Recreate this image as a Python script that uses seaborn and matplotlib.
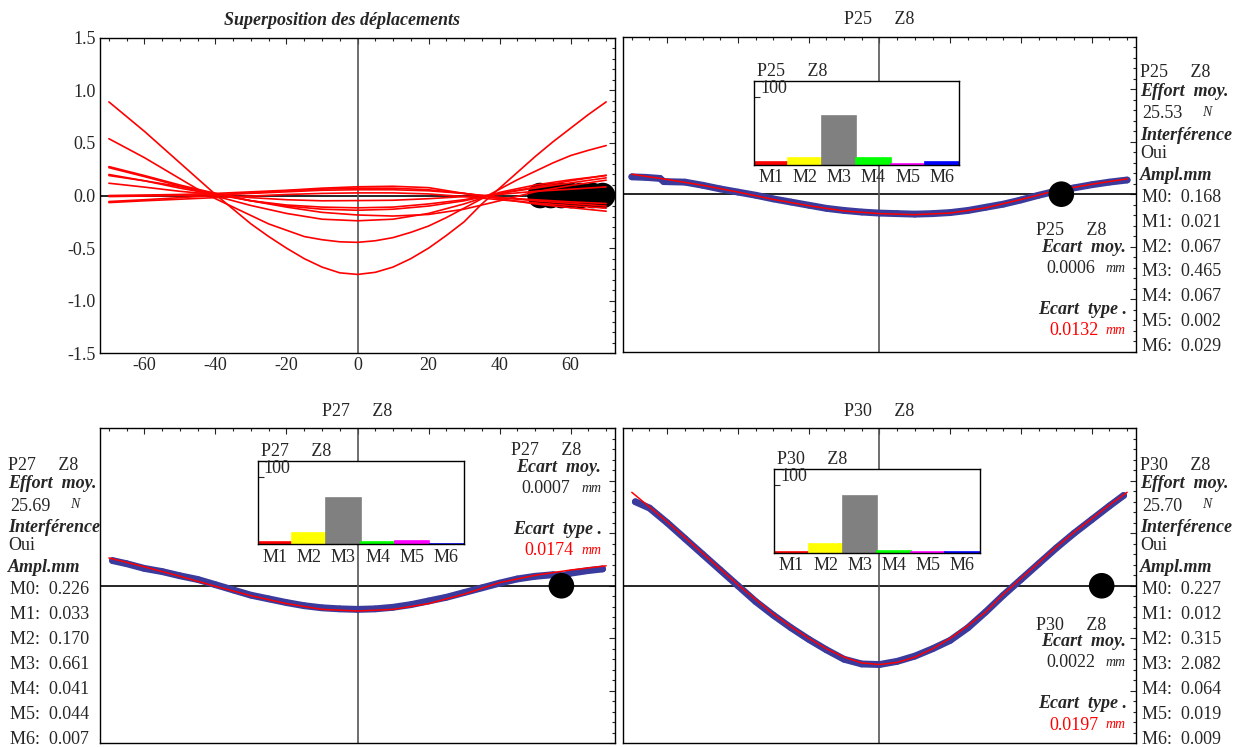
import numpy as np
import pandas as pd
import matplotlib
matplotlib.use("Agg")
import matplotlib.pyplot as plt
from matplotlib.ticker import MultipleLocator
import seaborn as sns

W, H = 1238, 747

# x grids of the fitted curves
x_fine = [-70, -65, -60, -55, -50, -45, -40, -35, -30, -25, -20, -15, -10, -5, 0,
          5, 10, 15, 20, 25, 30, 35, 40, 45, 50, 55, 60, 65, 70]
x_coarse = [-70, -60, -50, -40, -30, -20, -10, 0, 10, 20, 30, 40, 50, 60, 70]

# fitted curves (superposition)
fit_p30 = [0.89, 0.75, 0.61, 0.46, 0.31, 0.16, 0.01, -0.13, -0.27, -0.39, -0.50, -0.60, -0.68, -0.735, -0.75,
           -0.73, -0.68, -0.60, -0.50, -0.38, -0.25, -0.08, 0.07, 0.22, 0.37, 0.51, 0.64, 0.77, 0.89]
fit_b = [0.54, 0.45, 0.36, 0.26, 0.16, 0.06, -0.03, -0.11, -0.19, -0.27, -0.33, -0.39, -0.42, -0.44, -0.445,
         -0.43, -0.40, -0.35, -0.29, -0.21, -0.12, -0.03, 0.06, 0.15, 0.23, 0.31, 0.38, 0.43, 0.475]
fit_p27 = [0.265, 0.18, 0.09, -0.005, -0.095, -0.17, -0.225, -0.24, -0.225, -0.17, -0.08, 0.03, 0.10, 0.15, 0.19]
fit_p25 = [0.19, 0.14, 0.085, 0.02, -0.05, -0.11, -0.16, -0.185, -0.195, -0.18, -0.13, -0.05, 0.035, 0.095, 0.146]
fit_e = [0.275, 0.19, 0.10, 0.02, -0.05, -0.10, -0.13, -0.14, -0.13, -0.10, -0.05, 0.02, 0.08, 0.14, 0.193]
fit_f = [0.20, 0.14, 0.07, 0.01, -0.05, -0.09, -0.11, -0.117, -0.11, -0.08, -0.04, 0.02, 0.07, 0.12, 0.168]
fit_g = [0.117, 0.08, 0.04, 0.01, -0.02, -0.04, -0.05, -0.048, -0.045, -0.03, -0.01, 0.01, 0.04, 0.06, 0.082]
fit_h = [0.0, 0.005, 0.01, 0.02, 0.035, 0.05, 0.07, 0.083, 0.088, 0.075, 0.02, -0.02, -0.04, -0.06, -0.076]
fit_i = [-0.01, -0.005, 0.0, 0.01, 0.02, 0.035, 0.05, 0.055, 0.055, 0.045, 0.02, -0.02, -0.05, -0.075, -0.10]
fit_j = [-0.057, -0.04, -0.02, 0.0, 0.025, 0.045, 0.06, 0.07, 0.07, 0.055, 0.02, -0.03, -0.08, -0.115, -0.149]
fit_k = [-0.067, -0.05, -0.035, -0.02, -0.005, 0.01, 0.02, 0.025, 0.025, 0.015, -0.01, -0.04, -0.07, -0.095, -0.12]

# measured points
p25_x = [-70, -66, -62, -61, -55, -50, -45, -40, -35, -30, -25, -20, -15, -10, -5, 0,
         5, 10, 15, 20, 25, 30, 35, 40, 45, 50, 55, 60, 65, 70]
p25_y = [0.165, 0.16, 0.15, 0.12, 0.115, 0.085, 0.05, 0.02, -0.01, -0.045, -0.075, -0.105, -0.135, -0.155, -0.17, -0.18,
         -0.185, -0.19, -0.185, -0.175, -0.155, -0.125, -0.095, -0.055, -0.01, 0.03, 0.06, 0.09, 0.115, 0.135]
p27_x = [-69, -65, -60, -55, -50, -45, -40, -35, -30, -25, -20, -15, -10, -5, 0,
         5, 10, 15, 20, 25, 30, 35, 40, 45, 50, 55, 58, 60, 65, 69]
p27_y = [0.24, 0.21, 0.165, 0.135, 0.095, 0.06, 0.01, -0.04, -0.09, -0.125, -0.16, -0.19, -0.21, -0.22, -0.225,
         -0.22, -0.205, -0.18, -0.145, -0.11, -0.065, -0.02, 0.025, 0.065, 0.09, 0.105, 0.095, 0.12, 0.145, 0.16]
p30_x = [-69, -65, -60, -55, -50, -45, -40, -35, -30, -25, -20, -15, -10, -5, 0,
         5, 10, 15, 20, 25, 30, 35, 40, 45, 50, 55, 60, 65, 69]
p30_y = [0.80, 0.74, 0.60, 0.45, 0.30, 0.15, 0.0, -0.15, -0.28, -0.40, -0.51, -0.61, -0.70, -0.745, -0.75,
         -0.72, -0.67, -0.60, -0.52, -0.40, -0.25, -0.09, 0.06, 0.21, 0.36, 0.50, 0.63, 0.76, 0.86]

# sensor positions (black discs)
pos_all = [51.4, 54.4, 57.4, 60.1, 62.8, 66.2, 69.0]
pos_p25, pos_p27, pos_p30 = 51.4, 57.4, 62.8

modes = ["M1", "M2", "M3", "M4", "M5", "M6"]
mode_colors = ["#ff0000", "#ffff00", "#808080", "#00ff00", "#ff00ff", "#0000ff"]
ampl_p25 = [0.168, 0.021, 0.067, 0.465, 0.067, 0.002, 0.029]   # M0..M6
ampl_p27 = [0.226, 0.033, 0.170, 0.661, 0.041, 0.044, 0.007]
ampl_p30 = [0.227, 0.012, 0.315, 2.082, 0.064, 0.019, 0.009]
efforts = ["25.53", "25.69", "25.70"]
ecart_moy = ["0.0006", "0.0007", "0.0022"]
ecart_type = ["0.0132", "0.0174", "0.0197"]

sns.set_style("white")
plt.rcParams['font.family'] = ['Liberation Serif', 'DejaVu Serif']
plt.rcParams['axes.edgecolor'] = 'black'
plt.rcParams['axes.linewidth'] = 1.0
plt.rcParams['axes.unicode_minus'] = False

fig = plt.figure(figsize=(W / 100, H / 100), dpi=100)
RED = "#ff0000"
BLUE = "#3b3b9e"
FS = 13


def px(x, y):
    return x / W, 1 - y / H


def setup(ax, labels=False):
    ax.set_xlim(-72.5, 72.5)
    ax.set_ylim(-1.5, 1.5)
    ax.xaxis.set_major_locator(MultipleLocator(20))
    ax.xaxis.set_minor_locator(MultipleLocator(5))
    ax.yaxis.set_major_locator(MultipleLocator(0.5))
    ax.yaxis.set_minor_locator(MultipleLocator(0.1))
    ax.tick_params(which='both', direction='in', top=True, right=True, width=0.8,
                   labelleft=labels, labelbottom=labels, labelsize=FS, pad=3)
    ax.tick_params(which='major', length=4)
    ax.tick_params(which='minor', length=2)
    ax.axhline(0, color='black', lw=1.2, zorder=1)
    ax.axvline(0, color='#555555', lw=1.2, zorder=1)
    ax.set_xlabel('')
    ax.set_ylabel('')


def inset(ax, rect, name, ampl):
    ai = ax.inset_axes(rect)
    pct = [100 * a / sum(ampl[1:]) for a in ampl[1:]]
    sns.barplot(x=modes, y=pct, hue=modes, palette=mode_colors, width=1.0,
                saturation=1, legend=False, ax=ai)
    for p in ai.patches:
        p.set_edgecolor(p.get_facecolor())
        p.set_linewidth(1.2)
    ai.set_xlim(-0.5, 5.5)
    ai.set_ylim(0, 124)
    ai.set_yticks([100])
    ai.tick_params(axis='y', direction='in', length=4, labelleft=False, left=True)
    ai.tick_params(axis='x', length=0, labelsize=FS, pad=3)
    ai.set_facecolor('white')
    for s in ai.spines.values():
        s.set_linewidth(1.0)
    ai.text(0.03, 100, "100", transform=ai.get_yaxis_transform(), ha='left', va='bottom',
            fontsize=FS)
    ai.text(0.015, 1.01, name, transform=ai.transAxes, ha='left', va='bottom', fontsize=FS)
    ai.set_xlabel('')
    ai.set_ylabel('')


def info_block(x0, y0, name, effort, ampl):
    fig.text(*px(x0, y0), name, fontsize=FS, va='center')
    fig.text(*px(x0, y0 + 19), "Effort  moy.", fontsize=FS, weight='bold', style='italic', va='center')
    fig.text(*px(x0 + 2, y0 + 41.3), effort, fontsize=FS, va='center')
    fig.text(*px(x0 + 62, y0 + 40), "N", fontsize=10, style='italic', va='center')
    fig.text(*px(x0, y0 + 62.3), "Interférence", fontsize=FS, weight='bold', style='italic', va='center')
    fig.text(*px(x0, y0 + 80.3), "Oui", fontsize=FS, va='center')
    fig.text(*px(x0, y0 + 103), "Ampl.mm", fontsize=FS, weight='bold', style='italic', va='center')
    for i, a in enumerate(ampl):
        fig.text(*px(x0 + 2, y0 + 124.6 + 24.9 * i), "M%d:  %.3f" % (i, a), fontsize=FS, va='center')


def ecart_block(x0, y0, name, moy, typ):
    fig.text(*px(x0, y0), name, fontsize=FS, va='center')
    fig.text(*px(x0 + 90, y0 + 16.6), "Ecart  moy.", fontsize=FS, weight='bold', style='italic',
             va='center', ha='right')
    fig.text(*px(x0 + 10, y0 + 37.6), moy, fontsize=FS, va='center')
    fig.text(*px(x0 + 70, y0 + 37.6), "mm", fontsize=10, style='italic', va='center')
    fig.text(*px(x0 + 91, y0 + 78.3), "Ecart  type .", fontsize=FS, weight='bold', style='italic',
             va='center', ha='right')
    fig.text(*px(x0 + 13, y0 + 100), typ, fontsize=FS, va='center', color=RED)
    fig.text(*px(x0 + 70, y0 + 100), "mm", fontsize=10, style='italic', va='center', color=RED)


# top-left: superposition
ax0 = fig.add_axes([0.0808, 0.527, 0.416, 0.4225])
sns.scatterplot(x=pos_all, y=[0] * len(pos_all), s=340, color='black', edgecolor='none', ax=ax0, zorder=2)
for c in [fit_p30, fit_b]:
    sns.lineplot(x=x_fine, y=c, color=RED, lw=1.2, ax=ax0, zorder=3)
for c in [fit_p27, fit_p25, fit_e, fit_f, fit_g, fit_h, fit_i, fit_j, fit_k]:
    sns.lineplot(x=x_coarse, y=c, color=RED, lw=1.2, ax=ax0, zorder=3)
setup(ax0, labels=True)
ax0.set_title("Superposition des déplacements", fontsize=FS, weight='bold', style='italic', pad=9, x=0.47)

panels = [
    ([0.5032, 0.5292, 0.4144, 0.4217], "P25     Z8", p25_x, p25_y, x_coarse, fit_p25, pos_p25,
     [0.255, 0.594, 0.40, 0.266], ampl_p25),
    ([0.0808, 0.005, 0.416, 0.4217], "P27     Z8", p27_x, p27_y, x_coarse, fit_p27, pos_p27,
     [0.306, 0.631, 0.40, 0.265], ampl_p27),
    ([0.5032, 0.005, 0.4144, 0.4217], "P30     Z8", p30_x, p30_y, x_fine, fit_p30, pos_p30,
     [0.295, 0.605, 0.40, 0.267], ampl_p30),
]
for rect, name, mx, my, fx, fy, pos, irect, ampl in panels:
    ax = fig.add_axes(rect)
    sns.lineplot(x=mx, y=my, color=BLUE, lw=5, ax=ax, zorder=2)
    sns.scatterplot(x=mx, y=my, color=BLUE, s=22, edgecolor='none', ax=ax, zorder=2)
    sns.lineplot(x=fx, y=fy, color=RED, lw=1.1, ax=ax, zorder=3)
    sns.scatterplot(x=[pos], y=[0], s=340, color='black', edgecolor='none', ax=ax, zorder=4)
    setup(ax)
    ax.set_title(name, fontsize=FS, pad=9)
    inset(ax, irect, name, ampl)

info_block(1140, 72.7, "P25     Z8", efforts[0], ampl_p25)
info_block(8, 465, "P27     Z8", efforts[1], ampl_p27)
info_block(1140, 465, "P30     Z8", efforts[2], ampl_p30)
ecart_block(1036, 230.7, "P25     Z8", ecart_moy[0], ecart_type[0])
ecart_block(511, 450.7, "P27     Z8", ecart_moy[1], ecart_type[1])
ecart_block(1036, 625, "P30     Z8", ecart_moy[2], ecart_type[2])

fig.savefig("out.png", dpi=100)
